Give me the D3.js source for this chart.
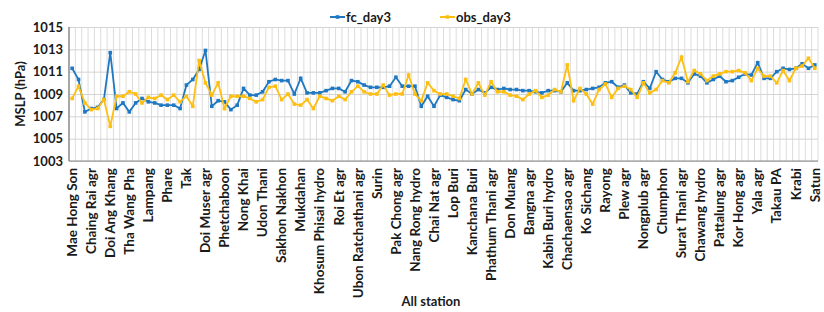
<!DOCTYPE html>
<html>
<head>
<meta charset="utf-8">
<script src="https://cdn.jsdelivr.net/npm/d3@7"></script>
<style>
body { margin: 0; background: #fff; }
text { font-family: Lato, "Open Sans", sans-serif; font-weight: bold; fill: #1a1a1a; }
</style>
</head>
<body>
<div id="chart"></div>
<script>
// station names shown on the axis (every third station)
var stationLabels = ["Mae Hong Son", "Chaing Rai agr", "Doi Ang Khang", "Tha Wang Pha", "Lampang",
    "Phare", "Tak", "Doi Muser agr", "Phetchaboon", "Nong Khai", "Udon Thani", "Sakhon Nakhon",
    "Mukdahan", "Khosum Phisai hydro", "Roi Et agr", "Ubon Ratchathani agr", "Surin", "Pak Chong agr",
    "Nang Rong hydro", "Chai Nat agr", "Lop Buri", "Kanchana Buri", "Phathum Thani agr", "Don Muang",
    "Bangna agr", "Kabin Buri hydro", "Chachaensao agr", "Ko Sichang", "Rayong", "Plew agr",
    "Nongplub agr", "Chumphon", "Surat Thani agr", "Chawang hydro", "Pattalung agr", "Kor Hong agr",
    "Yala agr", "Takau PA", "Krabi", "Satun"];

var fcDay3 = [1011.3, 1010.3, 1007.4, 1007.7, 1007.8, 1008.5, 1012.7, 1007.7, 1008.2, 1007.4,
    1008.2, 1008.6, 1008.3, 1008.2, 1008.0, 1008.0, 1008.0, 1007.7, 1009.8, 1010.3,
    1011.2, 1012.9, 1007.9, 1008.4, 1008.3, 1007.6, 1008.0, 1009.5, 1008.9, 1008.9,
    1009.2, 1010.1, 1010.3, 1010.2, 1010.2, 1009.0, 1010.4, 1009.1, 1009.1, 1009.1,
    1009.3, 1009.5, 1009.5, 1009.2, 1010.2, 1010.1, 1009.8, 1009.6, 1009.6, 1009.6,
    1009.7, 1010.5, 1009.7, 1009.7, 1009.7, 1007.9, 1008.8, 1007.9, 1008.9, 1008.7,
    1008.5, 1008.4, 1009.4, 1009.0, 1009.4, 1009.1, 1009.6, 1009.4, 1009.5, 1009.4,
    1009.4, 1009.3, 1009.3, 1009.2, 1009.1, 1009.3, 1009.3, 1009.2, 1010.0, 1009.3,
    1009.3, 1009.4, 1009.5, 1009.6, 1010.0, 1010.1, 1009.6, 1009.8, 1009.1, 1009.0,
    1010.1, 1009.5, 1011.0, 1010.3, 1010.1, 1010.4, 1010.4, 1010.0, 1010.8, 1010.6,
    1010.0, 1010.3, 1010.6, 1010.1, 1010.2, 1010.5, 1010.8, 1010.7, 1011.8, 1010.4,
    1010.4, 1011.0, 1011.3, 1011.2, 1011.3, 1011.7, 1011.3, 1011.6];

var obsDay3 = [1008.6, 1009.7, 1008.2, 1007.6, 1007.7, 1008.5, 1006.1, 1008.8, 1008.8, 1009.2,
    1009.0, 1008.2, 1008.7, 1008.6, 1008.9, 1008.5, 1008.9, 1008.3, 1008.8, 1007.9,
    1012.0, 1010.0, 1008.9, 1010.0, 1007.7, 1008.8, 1008.8, 1008.8, 1008.6, 1008.3,
    1008.5, 1009.6, 1009.7, 1008.5, 1009.0, 1008.1, 1008.0, 1008.5, 1007.7, 1008.8,
    1008.6, 1008.4, 1008.8, 1008.5, 1009.2, 1009.7, 1009.2, 1009.0, 1009.0, 1009.8,
    1008.9, 1009.0, 1009.0, 1010.7, 1009.0, 1008.4, 1010.0, 1009.3, 1009.0, 1009.0,
    1008.8, 1008.6, 1010.3, 1009.0, 1010.0, 1008.9, 1010.1, 1009.2, 1009.2, 1008.9,
    1008.8, 1008.5, 1009.0, 1009.3, 1008.7, 1008.9, 1009.4, 1009.2, 1011.6, 1008.4,
    1009.5, 1009.0, 1008.1, 1009.4, 1009.9, 1008.7, 1009.5, 1009.7, 1009.4, 1008.7,
    1010.0, 1009.1, 1009.4, 1010.2, 1010.0, 1010.9, 1012.3, 1010.1, 1011.1, 1010.8,
    1010.2, 1010.6, 1010.8, 1011.0, 1011.0, 1011.1, 1010.9, 1010.2, 1011.3, 1010.6,
    1010.6, 1010.0, 1011.1, 1010.2, 1011.3, 1011.5, 1012.2, 1011.3];

var yTicks = [1003, 1005, 1007, 1009, 1011, 1013, 1015];
var labelStep = 3;

var width = 824, height = 312;
var padding = { top: 27, right: 6, bottom: 151, left: 69 };
var plotW = width - padding.left - padding.right;
var plotH = height - padding.top - padding.bottom;

var svg = d3.select("#chart").append("svg")
    .attr("width", width)
    .attr("height", height);

var xScale = d3.scaleBand()
    .domain(d3.range(fcDay3.length))
    .range([0, plotW])
    .padding(0);
var yScale = d3.scaleLinear()
    .domain([1003, 1015])
    .range([plotH, 0]);

var g = svg.append("g")
    .attr("transform", "translate(" + padding.left + "," + padding.top + ")");

// vertical grid, one line per station boundary
g.append("g").selectAll("line")
    .data(d3.range(fcDay3.length + 1))
    .enter().append("line")
    .attr("x1", function(d) { return d * xScale.bandwidth(); })
    .attr("x2", function(d) { return d * xScale.bandwidth(); })
    .attr("y1", 0)
    .attr("y2", plotH)
    .attr("stroke", "#dcdcdc")
    .attr("stroke-width", 1);

// horizontal grid + y labels
var yAxis = d3.axisLeft(yScale).tickValues(yTicks).tickSize(-plotW).tickFormat(d3.format("d"));
var yg = g.append("g").call(yAxis);
yg.select(".domain").remove();
yg.selectAll("line").attr("stroke", "#d4d4d4");
yg.selectAll("text").attr("x", -6).attr("font-size", "13px");

// axis lines
g.append("line").attr("x1", 0).attr("x2", 0).attr("y1", 0).attr("y2", plotH)
    .attr("stroke", "#777").attr("stroke-width", 1.2);
g.append("line").attr("x1", 0).attr("x2", plotW).attr("y1", plotH).attr("y2", plotH)
    .attr("stroke", "#888").attr("stroke-width", 1.2);

// station labels
var xAxis = d3.axisBottom(xScale)
    .tickValues(d3.range(0, fcDay3.length, labelStep))
    .tickFormat(function(d) { return stationLabels[d / labelStep]; })
    .tickSize(0);
var xg = g.append("g").attr("transform", "translate(0," + plotH + ")").call(xAxis);
xg.select(".domain").remove();
xg.selectAll("text")
    .attr("font-size", "13.5px")
    .attr("text-anchor", "end")
    .attr("dy", "0.35em")
    .attr("transform", "translate(0,7) rotate(-90)")
    .attr("x", 0)
    .attr("y", 0);

function cx(d, i) { return xScale(i) + xScale.bandwidth() / 2; }

var series = [
    { name: "fc_day3", values: fcDay3, color: "#1f78c1" },
    { name: "obs_day3", values: obsDay3, color: "#fdbf12" }
];
var line = d3.line().x(cx).y(function(d) { return yScale(d); });

series.forEach(function(s) {
    g.append("path")
        .datum(s.values)
        .attr("fill", "none")
        .attr("stroke", s.color)
        .attr("stroke-width", 1.8)
        .attr("d", line);
    g.append("g").selectAll("rect")
        .data(s.values)
        .enter().append("rect")
        .attr("x", function(d, i) { return cx(d, i) - 1.8; })
        .attr("y", function(d) { return yScale(d) - 1.8; })
        .attr("width", 3.6)
        .attr("height", 3.6)
        .attr("fill", s.color);
});

// legend
var legendX = [330, 440];
series.forEach(function(s, i) {
    var lg = svg.append("g").attr("transform", "translate(" + legendX[i] + ",17)");
    lg.append("line").attr("x1", 0).attr("x2", 15).attr("y1", 0).attr("y2", 0)
        .attr("stroke", s.color).attr("stroke-width", 2);
    lg.append("rect").attr("x", 5.7).attr("y", -1.8).attr("width", 3.6).attr("height", 3.6)
        .attr("fill", s.color);
    lg.append("text").attr("x", 16).attr("y", 0).attr("dy", "0.35em")
        .attr("font-size", "13px").text(s.name);
});

// axis titles
svg.append("text")
    .attr("transform", "translate(20," + (padding.top + plotH / 2) + ") rotate(-90)")
    .attr("text-anchor", "middle")
    .attr("dy", "0.35em")
    .attr("font-size", "13px")
    .text("MSLP (hPa)");
svg.append("text")
    .attr("x", 431)
    .attr("y", 301)
    .attr("text-anchor", "middle")
    .attr("dy", "0.35em")
    .attr("font-size", "13px")
    .text("All station");
</script>
</body>
</html>
